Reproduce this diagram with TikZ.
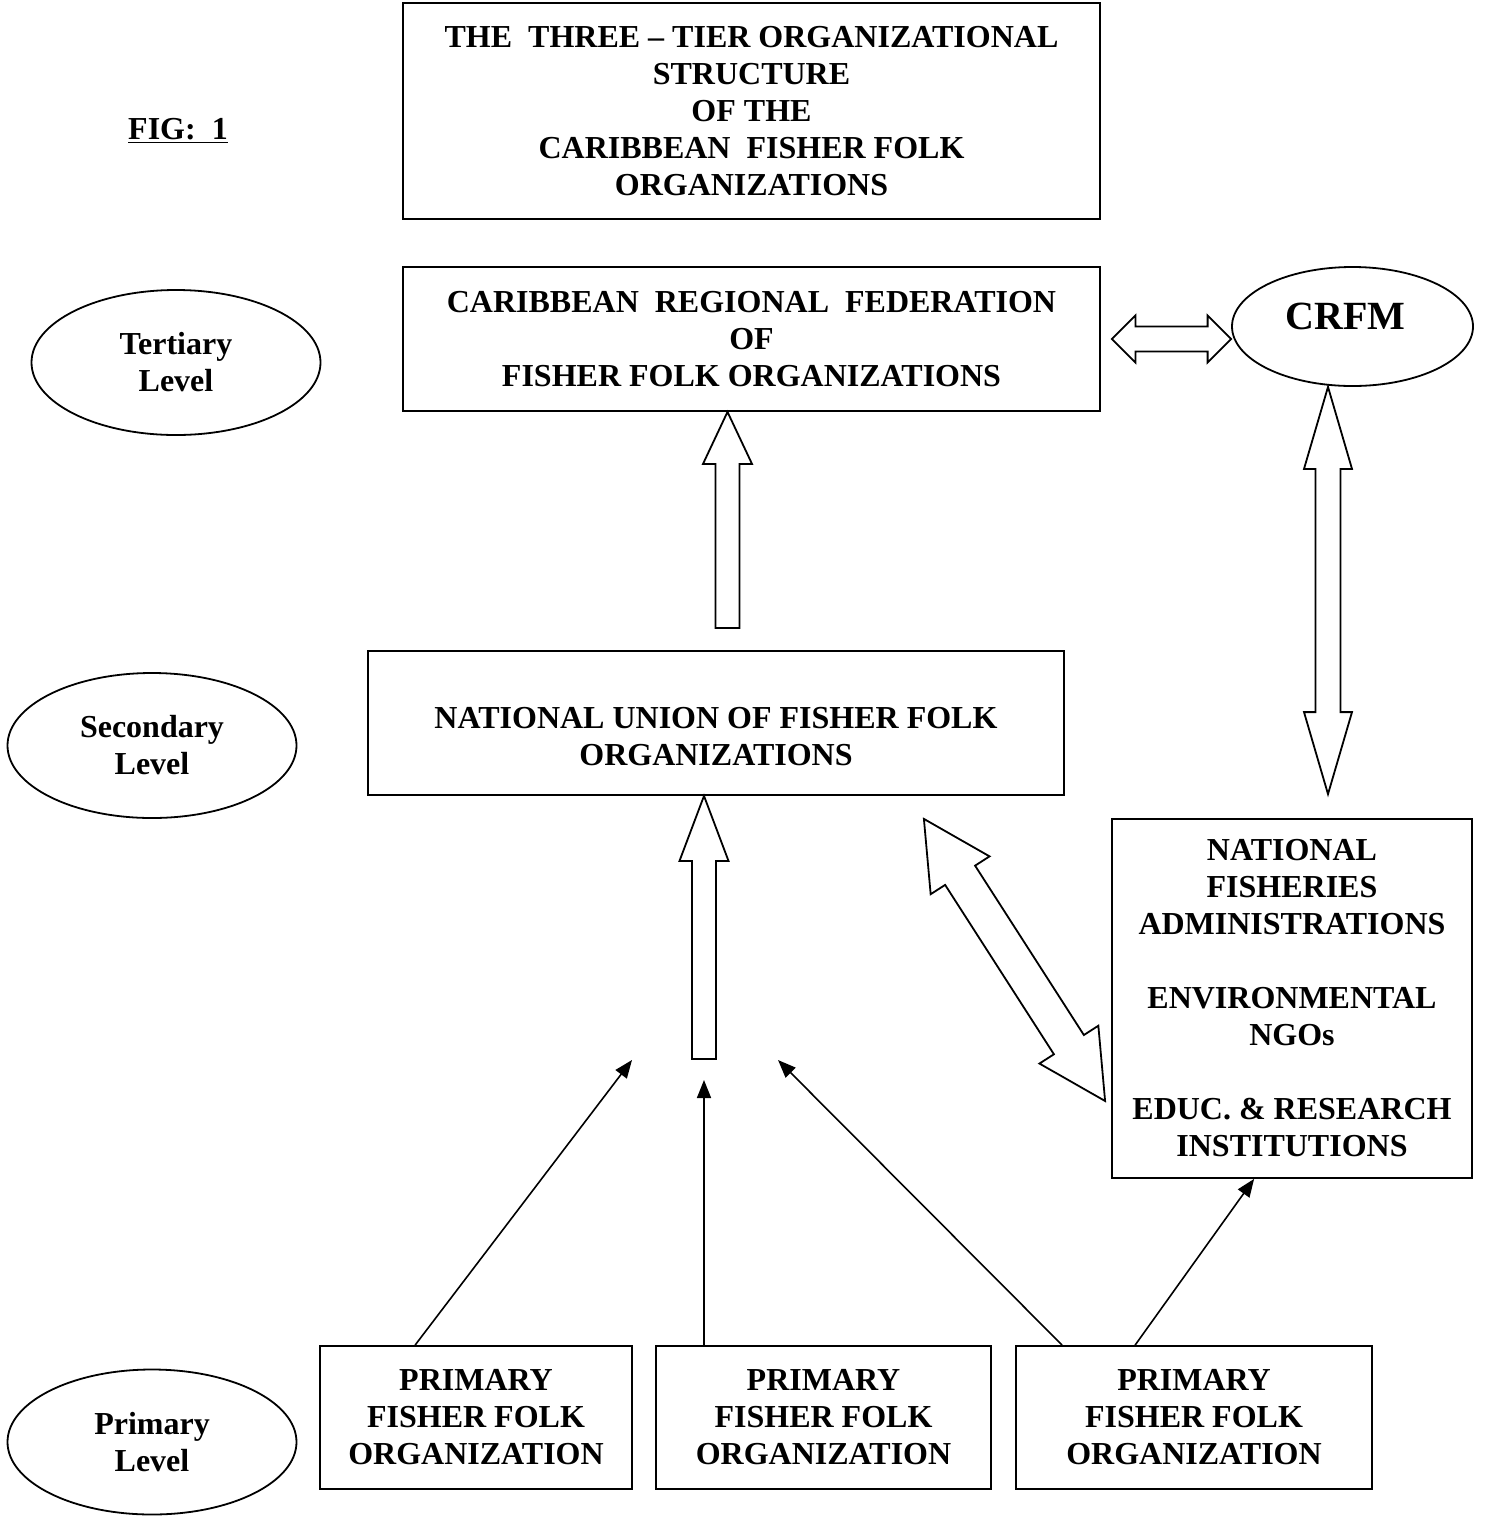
\documentclass[tikz,border=0pt]{standalone}
\usepackage{fontspec}
\setmainfont{Liberation Serif}
\usetikzlibrary{shapes.geometric,calc,arrows.meta}
\newcommand\fftxt{\bfseries\fontsize{16}{18.5}\selectfont}
\newcommand\blkone[5]{% tail, tip, half shaft, half head, head length
  \coordinate (bkb) at ($(#2)!#5!(#1)$);
  \draw[blk] ($(#1)!#3!90:(#2)$) -- ($(bkb)!#3!90:(#2)$) -- ($(bkb)!#4!90:(#2)$) -- (#2)
    -- ($(bkb)!#4!-90:(#2)$) -- ($(bkb)!#3!-90:(#2)$) -- ($(#1)!#3!-90:(#2)$) -- cycle;}
\newcommand\blktwo[5]{% tip A, tip B, half shaft, half head, head length
  \coordinate (bka) at ($(#1)!#5!(#2)$);
  \coordinate (bkb) at ($(#2)!#5!(#1)$);
  \draw[blk] (#1) -- ($(bka)!#4!90:(#2)$) -- ($(bka)!#3!90:(#2)$) -- ($(bkb)!#3!90:(#2)$)
    -- ($(bkb)!#4!90:(#2)$) -- (#2) -- ($(bkb)!#4!-90:(#2)$) -- ($(bkb)!#3!-90:(#2)$)
    -- ($(bka)!#3!-90:(#2)$) -- ($(bka)!#4!-90:(#2)$) -- cycle;}
\begin{document}
\begin{tikzpicture}[x=0.5pt,y=-0.5pt,
  box/.style={draw, line width=0.9pt, inner sep=0pt, align=center, font=\fftxt},
  lvl/.style={draw, ellipse, line width=0.9pt, inner sep=0pt, align=center, font=\fftxt,
    minimum width=144.5pt, minimum height=72.5pt},
  plain/.style={inner sep=0pt, align=center, font=\fftxt},
  blk/.style={draw, fill=white, line width=0.9pt, line join=miter},
  thinarrow/.style={line width=0.8pt, -{Triangle[length=9pt,width=7pt]}}]
\useasboundingbox (0,0) rectangle (1486,1522);

% title and figure label
\node[box, minimum width=348.5pt, minimum height=108pt] (title) at (751.5,111)
  {THE\ \ THREE – TIER ORGANIZATIONAL\\STRUCTURE\\OF THE\\CARIBBEAN\ \ FISHER FOLK\\ORGANIZATIONS};
\node[plain] (fig) at (178,131) {\underline{FIG:\ \ 1}};

% level ellipses
\node[lvl] (tert) at (176,362.5) {Tertiary\\Level};
\node[lvl] (sec) at (152,745.5) {Secondary\\Level};
\node[lvl] (prim) at (152,1442) {Primary\\Level};

% main boxes
\node[box, minimum width=348.5pt, minimum height=72pt] (reg) at (751.5,339)
  {CARIBBEAN\ \ REGIONAL\ \ FEDERATION\\OF\\FISHER FOLK ORGANIZATIONS};
\node[draw, ellipse, line width=0.9pt, inner sep=0pt, minimum width=120.5pt, minimum height=59.5pt]
  (crfm) at (1352.5,326.5) {};
\node[plain, font=\bfseries\fontsize{20}{24}\selectfont] (crfmT) at ($(crfm.center)+(-7,-10)$) {CRFM};
\node[box, minimum width=348pt, minimum height=72pt] (nu) at (716,723) {};
\node[plain] (nuT) at ($(nu.center)+(0,13.5)$) {NATIONAL UNION OF FISHER FOLK\\ORGANIZATIONS};
\node[box, minimum width=180pt, minimum height=179.5pt] (nfa) at (1292,998.5)
  {NATIONAL\\FISHERIES\\ADMINISTRATIONS\\[18.5pt]ENVIRONMENTAL\\NGOs\\[18.5pt]EDUC. \& RESEARCH\\INSTITUTIONS};
\node[box, minimum width=156pt, minimum height=71.5pt] (p1) at (476,1417.5)
  {PRIMARY\\FISHER FOLK\\ORGANIZATION};
\node[box, minimum width=167.5pt, minimum height=71.5pt] (p2) at (823.5,1417.5)
  {PRIMARY\\FISHER FOLK\\ORGANIZATION};
\node[box, minimum width=178pt, minimum height=71.5pt] (p3) at (1194,1417.5)
  {PRIMARY\\FISHER FOLK\\ORGANIZATION};

% block arrows
\coordinate (h1) at ($(reg.east)+(11,0)$);
\coordinate (h2) at (crfm.west |- h1);
\blktwo{h1}{h2}{6.25pt}{11.75pt}{11.75pt}
\coordinate (v1) at ($(crfm.south)+(-24.5,0)$);
\coordinate (v2) at ($(v1 |- nfa.north)+(0,-24)$);
\blktwo{v1}{v2}{6.25pt}{12pt}{41pt}
\coordinate (u1h) at ($(reg.south)+(-24,0)$);
\coordinate (u1t) at ($(u1h)+(0,216)$);
\blkone{u1t}{u1h}{6pt}{12.25pt}{26pt}
\coordinate (u2h) at ($(nu.south)+(-12,0)$);
\coordinate (u2t) at ($(u2h)+(0,263)$);
\blkone{u2t}{u2h}{6pt}{12.25pt}{32.5pt}
\coordinate (d1) at ($(nu.south east)+(-141,23)$);
\coordinate (d2) at ($(nfa.west)+(-6,102.5)$);
\blktwo{d1}{d2}{8.9pt}{17.5pt}{33.5pt}

% thin arrows
\coordinate (t1) at (632,1060);
\coordinate (t2) at (704,1080);
\coordinate (t3) at (778,1060);
\draw[thinarrow] ($(p1.north west)+(96,0)$) -- (t1);
\draw[thinarrow] (t2 |- p2.north) -- (t2);
\draw[thinarrow] ($(p3.north west)+(47,0)$) -- (t3);
\draw[thinarrow] ($(p3.north west)+(120,0)$) -- ($(nfa.south west)+(143,0)$);
\end{tikzpicture}
\end{document}
